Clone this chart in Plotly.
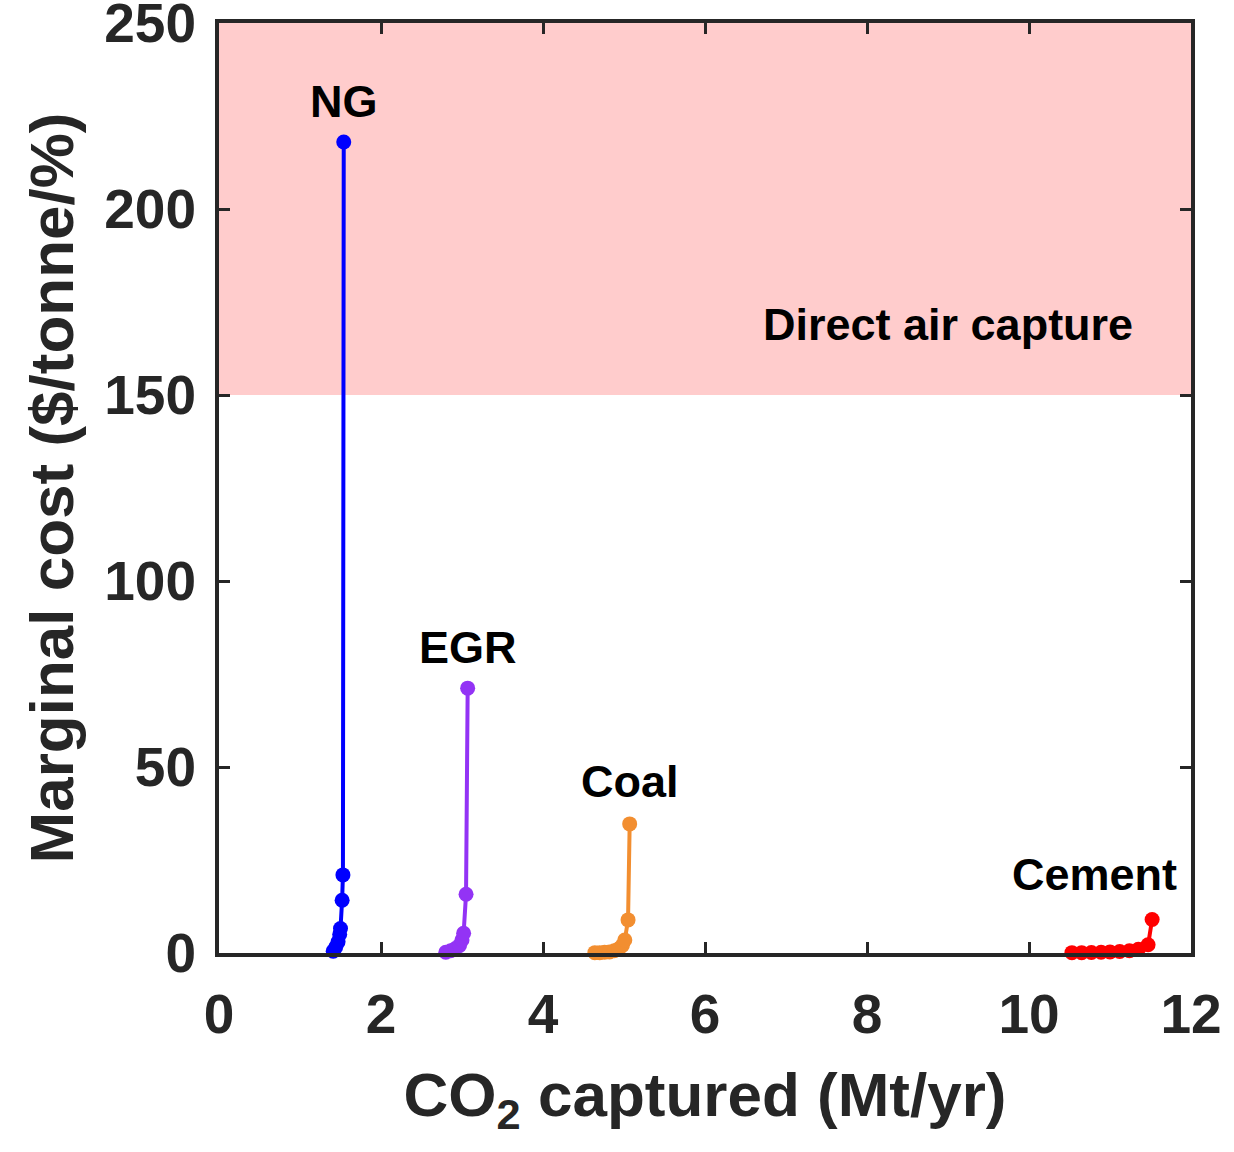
import plotly.graph_objects as go

# Data
ng_x = [1.41, 1.44, 1.47, 1.49, 1.50, 1.52, 1.53, 1.54]
ng_y = [0.5, 1.5, 3.0, 5.0, 6.6, 14.2, 21.0, 218.0]

egr_x = [2.80, 2.86, 2.92, 2.97, 3.00, 3.02, 3.05, 3.07]
egr_y = [0.2, 0.6, 1.2, 2.0, 3.5, 5.3, 15.8, 71.2]

coal_x = [4.64, 4.70, 4.76, 4.82, 4.88, 4.94, 4.98, 5.01, 5.05, 5.07]
coal_y = [0.1, 0.1, 0.2, 0.3, 0.6, 1.2, 2.0, 3.5, 8.9, 34.7]

cement_x = [10.53, 10.65, 10.77, 10.89, 11.00, 11.12, 11.24, 11.35, 11.47, 11.52]
cement_y = [0.1, 0.1, 0.15, 0.2, 0.3, 0.4, 0.6, 1.0, 2.2, 9.0]

series_names = ["NG", "EGR", "Coal", "Cement"]
series_colors = ["#0000FF", "#9333F5", "#F28E30", "#FF0000"]
label_pos = [(1.54, 229), (3.07, 82), (5.07, 46), (10.81, 21)]

dac_range = [150, 250]
x_ticks = [0, 2, 4, 6, 8, 10, 12]
y_ticks = [0, 50, 100, 150, 200, 250]

FONT = "Liberation Sans"
AX = "#262626"

fig = go.Figure()

fig.add_shape(type="rect", xref="x", yref="y", x0=0, x1=12,
              y0=dac_range[0], y1=dac_range[1],
              fillcolor="#FFCCCC", line=dict(width=0), layer="below")

for name, xs, ys, c in zip(series_names, [ng_x, egr_x, coal_x, cement_x],
                           [ng_y, egr_y, coal_y, cement_y], series_colors):
    fig.add_trace(go.Scatter(x=xs, y=ys, mode="lines+markers", name=name,
                             line=dict(color=c, width=4),
                             marker=dict(color=c, size=15),
                             showlegend=False, cliponaxis=False))

for name, (lx, ly) in zip(series_names, label_pos):
    fig.add_annotation(x=lx, y=ly, text=name, showarrow=False,
                       font=dict(family=FONT, size=45, color="black", weight="bold"))

fig.add_annotation(x=9.0, y=169, text="Direct air capture", showarrow=False,
                   font=dict(family=FONT, size=45, color="black", weight="bold"))

axis_common = dict(showline=True, linewidth=4, linecolor=AX, mirror="ticks",
                   ticks="inside", ticklen=11, tickwidth=3, tickcolor=AX,
                   showgrid=False, zeroline=False, ticklabeloverflow="allow",
                   automargin=False,
                   tickfont=dict(family=FONT, size=55, color=AX, weight="bold"))

fig.update_xaxes(range=[0, 12], tickvals=x_ticks, ticktext=[str(v) for v in x_ticks],
                 ticklabelstandoff=10,
                 title=dict(text="CO<sub>2</sub> captured (Mt/yr)", standoff=30,
                            font=dict(family=FONT, size=62, color=AX, weight="bold")),
                 **axis_common)
fig.update_yaxes(range=[0, 250], tickvals=y_ticks, ticktext=[str(v) for v in y_ticks],
                 ticklabelstandoff=8,
                 title=dict(text="Marginal cost ($/tonne/%)", standoff=12,
                            font=dict(family=FONT, size=62, color=AX, weight="bold")),
                 **axis_common)

fig.update_layout(width=1234, height=1152,
                  margin=dict(l=219, r=43, t=23, b=199, autoexpand=False),
                  plot_bgcolor="white", paper_bgcolor="white")

fig.write_html("out.html")
